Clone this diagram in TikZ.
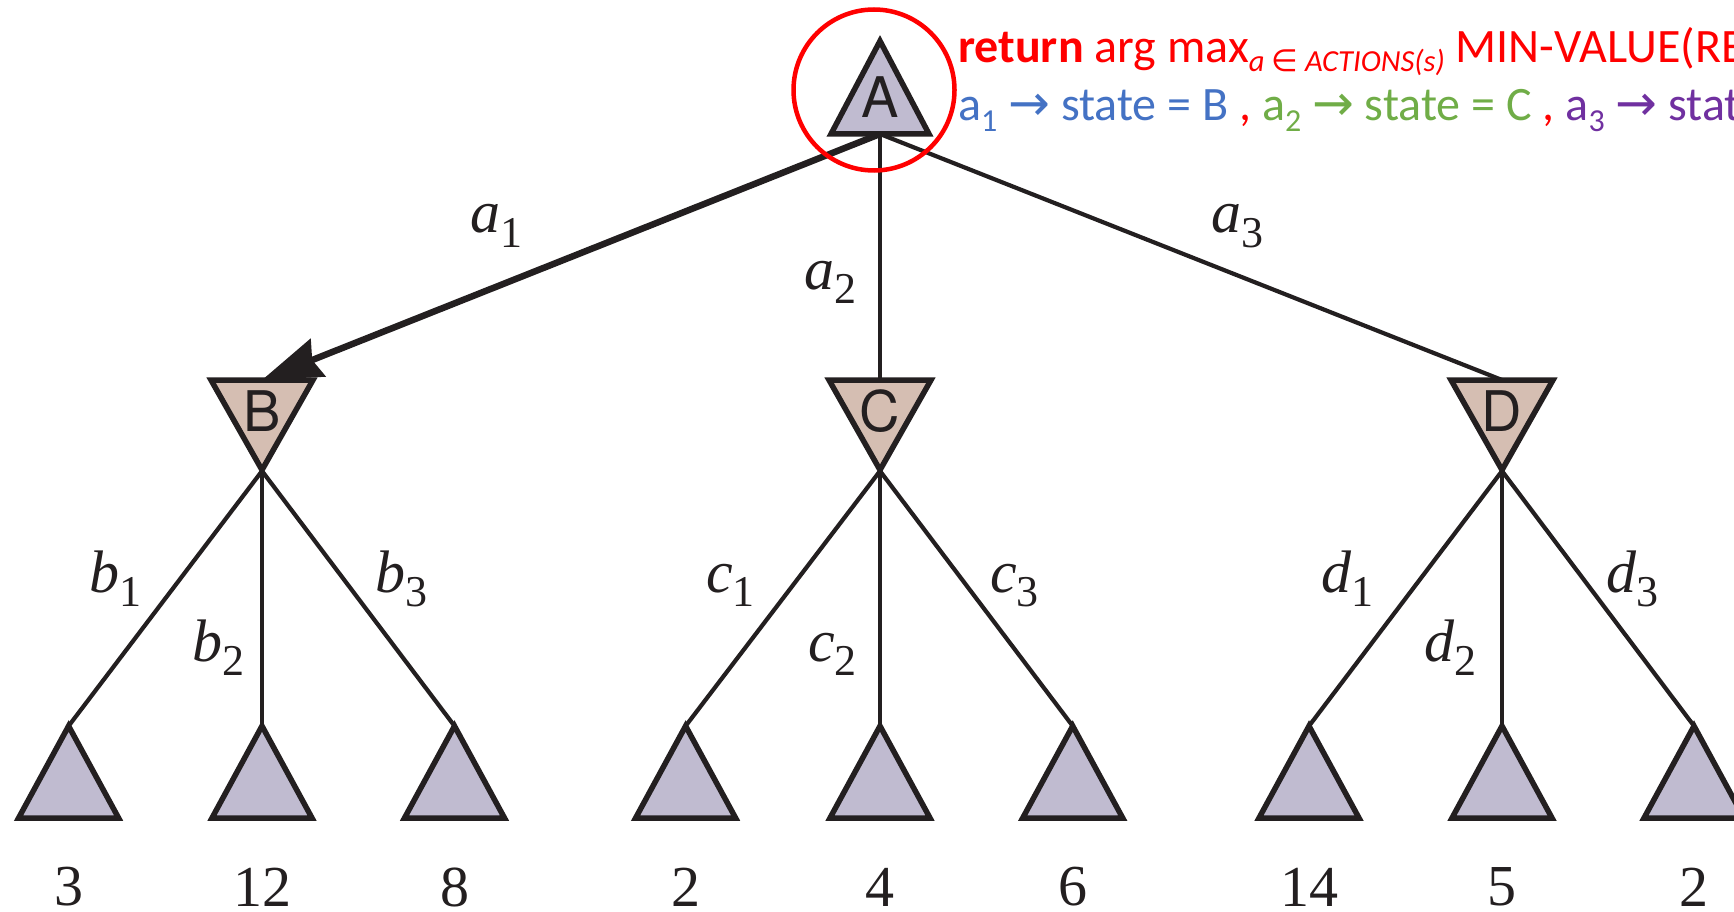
\documentclass[tikz,border=0pt]{standalone}
\usepackage{fontspec}
\setmainfont{Liberation Serif}
\newfontfamily\calib{Carlito}
\newfontfamily\heros{TeX Gyre Heros}
\newfontfamily\dejavu{DejaVu Sans}
\usetikzlibrary{arrows.meta}
\definecolor{maxc}{RGB}{192,187,208}
\definecolor{minc}{RGB}{213,190,178}
\definecolor{outc}{RGB}{35,31,32}
\definecolor{cblue}{RGB}{68,114,196}
\definecolor{cgreen}{RGB}{112,173,71}
\definecolor{cpurple}{RGB}{112,48,160}
\newcommand\mysub[1]{\raisebox{-11pt}{\fontsize{32}{32}\selectfont #1}}
\newcommand\myarr{{\dejavu\fontsize{50}{50}\selectfont →}}
\newcommand\esub[1]{\raisebox{-14pt}{\fontsize{44}{44}\selectfont #1}}
\tikzset{
  tri/.style={draw=outc, line width=5.5pt, line join=miter, miter limit=20},
  leaftri/.pic={\path[tri, fill=maxc] (0,0) -- (-50,92) -- (50,92) -- cycle;},
  roottri/.pic={\path[tri, fill=maxc] (0,0) -- (-49,93) -- (49,93) -- cycle;},
  mintri/.pic={\path[tri, fill=minc] (-51,0) -- (51,0) -- (0,90) -- cycle;},
  edge/.style={draw=outc, line width=4.2pt},
  tlet/.style={inner sep=0, text=outc, font=\heros\fontsize{56}{56}\selectfont},
  num/.style={inner sep=0, text=outc, font=\fontsize{58}{58}\selectfont},
  elab/.style={anchor=base west, inner sep=0, text=outc, font=\fontsize{60}{60}\selectfont},
  ttext/.style={anchor=base west, inner sep=0, font=\calib\fontsize{48}{48}\selectfont},
}
\begin{document}
\begin{tikzpicture}[x=1pt, y=-1pt]
\path[use as bounding box] (0,0) rectangle (1734,912);
\clip (0,0) rectangle (1734,912);
% coordinates
\coordinate (Ab) at (880,134);
\coordinate (Bt) at (262,380); \coordinate (Bb) at (262,471);
\coordinate (Ct) at (880,380); \coordinate (Cb) at (880,471);
\coordinate (Dt) at (1502,380); \coordinate (Db) at (1502,471);
\foreach \i/\x in {1/68.6,2/262,3/454.5,4/685.6,5/880,6/1072.7,7/1309,8/1502,9/1694}{
  \coordinate (L\i) at (\x,726);
}
% edges
\draw[edge, line width=6.5pt, -{Stealth[length=60pt,width=40pt,inset=6pt]}] (Ab) -- (Bt);
\draw[edge] (Ab) -- (Ct);
\draw[edge] (Ab) -- (Dt);
\draw[edge] (Bb) -- (L1); \draw[edge] (Bb) -- (L2); \draw[edge] (Bb) -- (L3);
\draw[edge] (Cb) -- (L4); \draw[edge] (Cb) -- (L5); \draw[edge] (Cb) -- (L6);
\draw[edge] (Db) -- (L7); \draw[edge] (Db) -- (L8); \draw[edge] (Db) -- (L9);
% triangles
\pic at (880,41) {roottri};
\pic at (Bt) {mintri};
\pic at (Ct) {mintri};
\pic at (Dt) {mintri};
\foreach \i in {1,...,9}{ \pic at (L\i) {leaftri}; }
% letters
\node[tlet] (A) at (880,97) {A};
\node[tlet] (B) at (262,411) {B};
\node[tlet] (C) at (880,411) {C};
\node[tlet] (D) at (1502,411) {D};
% red ring
\node[draw=red, circle, line width=4.5pt, minimum size=161pt, inner sep=0] (ring) at (874,90) {};
% leaf values
\node[num] (n1) at (68.6,887) {3};
\node[num] (n2) at (262,887) {12};
\node[num] (n3) at (454.5,887) {8};
\node[num] (n4) at (685.6,887) {2};
\node[num] (n5) at (880,887) {4};
\node[num] (n6) at (1072.7,887) {6};
\node[num] (n7) at (1309,887) {14};
\node[num] (n8) at (1502,887) {5};
\node[num] (n9) at (1694,887) {2};
% edge labels
\node[elab] (la1) at (470,233) {\textit{a}\esub{1}};
\node[elab] (la2) at (804,289) {\textit{a}\esub{2}};
\node[elab] (la3) at (1211,233) {\textit{a}\esub{3}};
\node[elab] (lb1) at (89,592) {\textit{b}\esub{1}};
\node[elab] (lb2) at (192,661) {\textit{b}\esub{2}};
\node[elab] (lb3) at (375,592) {\textit{b}\esub{3}};
\node[elab] (lc1) at (706,592) {\textit{c}\esub{1}};
\node[elab] (lc2) at (808,661) {\textit{c}\esub{2}};
\node[elab] (lc3) at (990,592) {\textit{c}\esub{3}};
\node[elab] (ld1) at (1321,592) {\textit{d}\esub{1}};
\node[elab] (ld2) at (1424,661) {\textit{d}\esub{2}};
\node[elab] (ld3) at (1606,592) {\textit{d}\esub{3}};
% top text
\node[ttext, text=red] (t1) at (958,63) {\textbf{return} arg max\raisebox{-9pt}{\fontsize{30.6}{31}\selectfont\itshape a {\dejavu\upshape ∈} ACTIONS(s)} MIN-VALUE(RE};
\node[ttext] (t2) at (958,121) {\color{cblue}a\mysub{1} \myarr{} state = B \color{red}, \color{cgreen}a\mysub{2} \myarr{} state = C \color{red}, \color{cpurple}a\mysub{3} \myarr{} stat};
\end{tikzpicture}
\end{document}
